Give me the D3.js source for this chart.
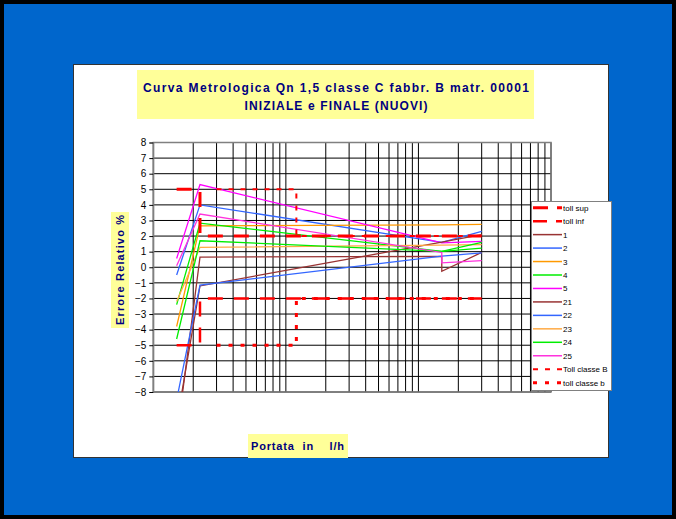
<!DOCTYPE html>
<html><head><meta charset="utf-8">
<script src="https://cdn.jsdelivr.net/npm/d3@7/dist/d3.min.js"></script>
<style>body{margin:0;padding:0;background:#000;}svg{display:block;}</style>
</head><body>
<svg id="c" width="676" height="519"></svg>
<script>
// ---- data ----
const flows = [15, 22.5, 1500, 1500, 3000];           // Portata l/h
const seriesNames = ["1","2","3","4","5","21","22","23","24","25"];
const s1  = [-11.0, 0.65, 0.70, -0.26, 0.95];
const s2  = [-0.50, 4.00, 1.60, 1.60, 2.30];
const s3  = [-3.80, 2.65, 2.72, 2.72, 2.75];
const s4  = [-2.40, 2.83, 1.02, 1.02, 1.23];
const s5  = [0.56, 5.30, 1.56, 1.56, 1.66];
const s21 = [-10.0, -1.20, 1.61, 1.61, 2.09];
const s22 = [-8.50, -1.15, 0.72, 0.72, 0.92];
const s23 = [-2.20, 1.28, 1.42, 1.42, 1.45];
const s24 = [-4.60, 1.70, 1.02, 1.02, 1.60];
const s25 = [0.10, 3.41, 0.95, 0.28, 0.43];
const tollSupX = [15, 22.5, 22.5, 3000], tollSupY = [5, 5, 2, 2];
const tollInfX = [15, 22.5, 22.5, 3000], tollInfY = [-5, -5, -2, -2];
const tollBX = [30, 120, 120, 3000], tollBY = [5, 5, 2, 2];
const tollbX = [30, 120, 120, 3000], tollbY = [-5, -5, -2, -2];
const yTicks = [8,7,6,5,4,3,2,1,0,-1,-2,-3,-4,-5,-6,-7,-8];
const xDomain = [10, 10000];
const yDomain = [-8, 8];

// ---- styles ----
const colors = {"1":"#993333","2":"#3366ff","3":"#ff9900","4":"#00ee00","5":"#ff00ff",
  "21":"#993333","22":"#3366ff","23":"#ffaa44","24":"#00ee00","25":"#ff33dd"};
const seriesVals = {"1":s1,"2":s2,"3":s3,"4":s4,"5":s5,"21":s21,"22":s22,"23":s23,"24":s24,"25":s25};

const svg = d3.select("#c");
svg.append("rect").attr("x",0).attr("y",0).attr("width",676).attr("height",519).attr("fill","#000");
svg.append("rect").attr("x",4).attr("y",4).attr("width",668).attr("height",511).attr("fill","#0066cc");
svg.append("rect").attr("x",73.5).attr("y",64.5).attr("width",535).attr("height",393)
  .attr("fill","#fff").attr("stroke","#333").attr("stroke-width",1);

const L=153.3, R=551, T=142.5, B=392;
const x = d3.scaleLog().domain(xDomain).range([L,R]);
const y = d3.scaleLinear().domain(yDomain).range([B,T]);

svg.append("defs").append("clipPath").attr("id","pc")
  .append("rect").attr("x",L).attr("y",T).attr("width",R-L).attr("height",B-T);

// grid
const g = svg.append("g");
const vlines = [];
for (let k=1;k<=3;k++) for (let m=1;m<=9;m++) vlines.push(m*Math.pow(10,k));
vlines.push(10000);
g.selectAll(".vg").data(vlines).join("line")
  .attr("x1",d=>x(d)).attr("x2",d=>x(d)).attr("y1",T).attr("y2",B)
  .attr("stroke","#000").attr("stroke-width",1);
g.selectAll(".hg").data(yTicks).join("line")
  .attr("x1",L).attr("x2",R).attr("y1",d=>y(d)).attr("y2",d=>y(d))
  .attr("stroke","#000").attr("stroke-width",1);
svg.append("rect").attr("x",L).attr("y",T).attr("width",R-L).attr("height",B-T)
  .attr("fill","none").attr("stroke","#808080").attr("stroke-width",1.5);

// y axis
const ya = svg.append("g").attr("transform",`translate(${L},0)`)
  .call(d3.axisLeft(y).tickValues(yTicks).tickSize(4).tickPadding(3).tickFormat(d3.format("d")));
ya.select(".domain").attr("stroke","#808080");
ya.selectAll("text").attr("font-family","Liberation Sans, Arial, sans-serif").attr("font-size","10px").attr("fill","#000");
ya.selectAll("line").attr("stroke","#000");

// lines
const plot = svg.append("g").attr("clip-path","url(#pc)");
const line = d3.line().x(d=>x(d[0])).y(d=>y(d[1]));
function tol(xs,ys){return xs.map((v,i)=>[v,ys[i]]);}
const tolStyles = [
  {name:"toll sup", pts:tol(tollSupX,tollSupY), w:3, dash:"15,11"},
  {name:"toll inf", pts:tol(tollInfX,tollInfY), w:2.5, dash:"15,11"},
  {name:"Toll classe B", pts:tol(tollBX,tollBY), w:2, dash:"5,7"},
  {name:"toll classe b", pts:tol(tollbX,tollbY), w:3, dash:"4,8"}
];
seriesNames.forEach(n=>{
  plot.append("path").datum(flows.map((f,i)=>[f,seriesVals[n][i]]))
    .attr("d",line).attr("fill","none").attr("stroke",colors[n]).attr("stroke-width",1.3);
});
tolStyles.forEach(t=>{
  plot.append("path").datum(t.pts).attr("d",line).attr("fill","none")
    .attr("stroke","#ff0000").attr("stroke-width",t.w).attr("stroke-dasharray",t.dash);
});

// title
svg.append("rect").attr("x",137).attr("y",70).attr("width",397).attr("height",49).attr("fill","#ffff99");
const tf = "Liberation Sans, Arial, sans-serif";
svg.append("text").attr("x",336).attr("y",92).attr("text-anchor","middle")
  .attr("font-family",tf).attr("font-weight","bold").attr("font-size","12px").attr("fill","#000080")
  .attr("textLength",386).attr("lengthAdjust","spacing")
  .text("Curva Metrologica Qn 1,5 classe C fabbr. B matr. 00001");
svg.append("text").attr("x",336).attr("y",110).attr("text-anchor","middle")
  .attr("font-family",tf).attr("font-weight","bold").attr("font-size","12px").attr("fill","#000080")
  .attr("textLength",183).attr("lengthAdjust","spacing")
  .text("INIZIALE e FINALE (NUOVI)");

// y title
svg.append("rect").attr("x",111).attr("y",212).attr("width",18).attr("height",116).attr("fill","#ffff99");
svg.append("text").attr("transform","translate(124,270) rotate(-90)").attr("text-anchor","middle")
  .attr("font-family",tf).attr("font-weight","bold").attr("font-size","11px").attr("fill","#000080")
  .attr("textLength",110).attr("lengthAdjust","spacing")
  .text("Errore Relativo %");

// x title
svg.append("rect").attr("x",248).attr("y",434).attr("width",100).attr("height",24).attr("fill","#ffff99");
svg.append("text").attr("x",251).attr("y",450)
  .attr("font-family",tf).attr("font-weight","bold").attr("font-size","11px").attr("fill","#000080")
  .attr("textLength",93).attr("lengthAdjust","spacing").attr("xml:space","preserve")
  .text("Portata  in    l/h");

// legend
const lg = svg.append("g");
lg.append("rect").attr("x",531.5).attr("y",201.5).attr("width",80).attr("height",189)
  .attr("fill","#fff").attr("stroke","#808080").attr("stroke-width",1);
const legItems = [
  {label:"toll sup", color:"#ff0000", w:3, dash:"15,9"},
  {label:"toll inf", color:"#ff0000", w:2.5, dash:"14,9"},
  ...seriesNames.map(n=>({label:n, color:colors[n], w:1.5, dash:null})),
  {label:"Toll classe B", color:"#ff0000", w:2, dash:"5,7"},
  {label:"toll classe b", color:"#ff0000", w:3, dash:"4,8"}
];
legItems.forEach((it,i)=>{
  const yy = 207.7 + i*13.46;
  const l = lg.append("line").attr("x1",533).attr("x2",562).attr("y1",yy).attr("y2",yy)
    .attr("stroke",it.color).attr("stroke-width",it.w);
  if (it.dash) l.attr("stroke-dasharray",it.dash);
  lg.append("text").attr("x",563).attr("y",yy+3).attr("font-family",tf).attr("font-size","8px")
    .attr("fill","#000").text(it.label);
});
</script>
</body></html>
